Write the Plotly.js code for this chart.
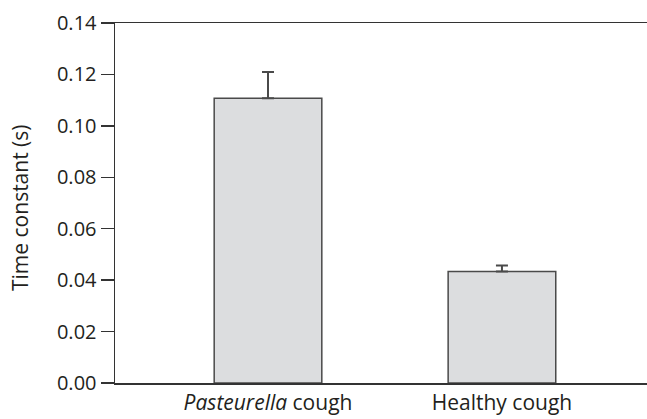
<!DOCTYPE html>
<html>
<head>
<meta charset="utf-8">
<script src="https://cdn.plot.ly/plotly-3.0.1.min.js"></script>
<style>
  html, body { margin: 0; padding: 0; background: #fff; }
  #chart { width: 647px; height: 419px; }
</style>
</head>
<body>
<div id="chart"></div>
<script>
// Mean time constant per cough type, with upper error (SEM)
const categories = ['Pasteurella cough', 'Healthy cough'];
const tickLabels = ['<i>Pasteurella</i> cough', 'Healthy cough'];
const timeConstant = [0.1107, 0.0434];
const errorUpper = [0.0102, 0.0023];
const yTicks = [0, 0.02, 0.04, 0.06, 0.08, 0.10, 0.12, 0.14];
const yTitle = 'Time constant (s)';

const ink = '#231f20';
const lineGray = '#4a4a4a';
const fontFamily = 'Open Sans, sans-serif';

const trace = {
  type: 'bar',
  x: categories,
  y: timeConstant,
  width: 0.46,
  marker: { color: '#dcdddf', line: { color: lineGray, width: 1.5 } },
  error_y: {
    type: 'data',
    symmetric: false,
    array: errorUpper,
    arrayminus: [0, 0],
    color: lineGray,
    thickness: 2,
    width: 6
  },
  hoverinfo: 'none'
};

const layout = {
  width: 647,
  height: 419,
  margin: { l: 115, r: 0, t: 23, b: 36 },
  paper_bgcolor: '#ffffff',
  plot_bgcolor: '#ffffff',
  font: { family: fontFamily, size: 20, color: ink },
  showlegend: false,
  bargap: 0,
  xaxis: {
    type: 'category',
    range: [-0.654, 1.62],
    tickvals: categories,
    ticktext: tickLabels,
    showline: true,
    mirror: true,
    linecolor: '#333333',
    linewidth: 1.5,
    ticks: '',
    showgrid: false,
    zeroline: false,
    automargin: false,
    tickfont: { family: fontFamily, size: 21, color: ink }
  },
  yaxis: {
    range: [0, 0.14],
    tickvals: yTicks,
    tickformat: '.2f',
    showline: true,
    linecolor: '#333333',
    linewidth: 1.5,
    ticks: 'outside',
    ticklen: 13,
    tickwidth: 1.5,
    tickcolor: '#333333',
    showgrid: false,
    zeroline: false,
    automargin: false,
    tickfont: { family: fontFamily, size: 20, color: ink }
  },
  // vertical axis title, placed beside the tick labels
  annotations: [{
    text: yTitle,
    textangle: -90,
    xref: 'paper', yref: 'paper',
    x: (20 - 115) / 532, y: (383 - 208) / 360,
    xanchor: 'center', yanchor: 'middle',
    showarrow: false,
    font: { family: fontFamily, size: 21, color: ink }
  }]
};

Plotly.newPlot('chart', [trace], layout, { displayModeBar: false, staticPlot: true });
</script>
</body>
</html>
